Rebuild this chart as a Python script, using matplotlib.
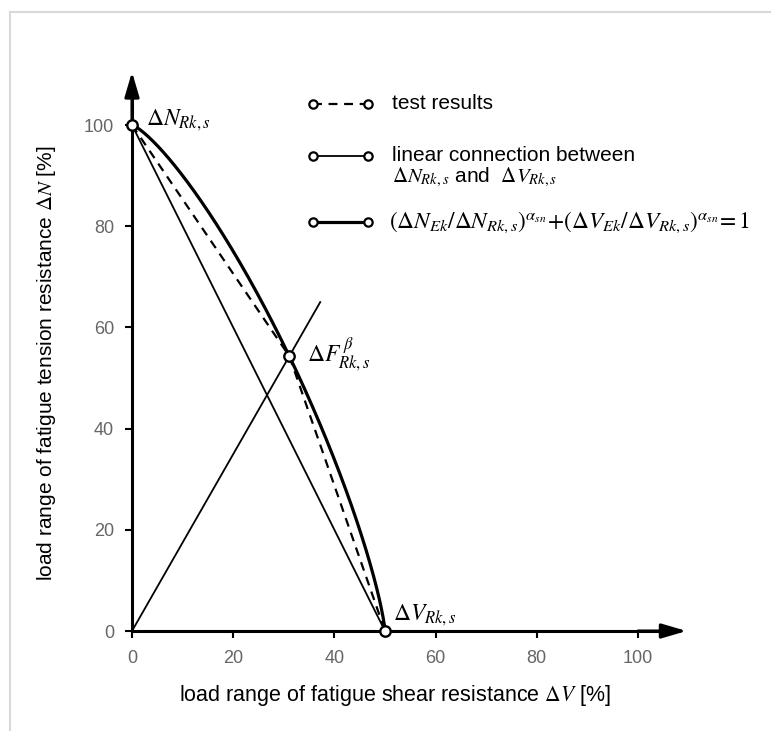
import numpy as np
import matplotlib
matplotlib.use("Agg")
import matplotlib.pyplot as plt
from matplotlib.lines import Line2D

# ---- data ---------------------------------------------------------------
# characteristic fatigue resistances [%]
N_Rk = 100.0          # tension
V_Rk = 50.0           # shear
alpha_sn = 1.284      # interaction exponent

# test results (shear, tension) [%]
test_V = [0.0, 31.1, 50.0]
test_N = [100.0, 54.3, 0.0]

# linear connection between the two resistances
lin_V = [0.0, 50.0]
lin_N = [100.0, 0.0]

# load ray from the origin under the angle beta
ray_V = [0.0, 37.2]
ray_N = [0.0, 65.0]

ticks = [0, 20, 40, 60, 80, 100]

# ---- style --------------------------------------------------------------
plt.rcParams["mathtext.fontset"] = "stix"
TEXT_FONT = ["Liberation Sans", "DejaVu Sans"]
TICK_FONT = ["Liberation Sans Narrow", "Liberation Sans", "DejaVu Sans"]

W, H = 778, 731
fig = plt.figure(figsize=(W / 100, H / 100), dpi=100, facecolor="white")

# axes placed so that 0 -> (132, 631) px and 100 -> (638, 125) px
x0_px, y0_px, ppu = 132.0, 631.0, 5.06
lo, hi = -5.0, 115.0
ax = fig.add_axes([(x0_px + lo * ppu) / W,
                   (H - y0_px + lo * ppu) / H,
                   (hi - lo) * ppu / W,
                   (hi - lo) * ppu / H])
ax.set_xlim(lo, hi)
ax.set_ylim(lo, hi)
ax.set_facecolor("none")

# axes through the origin, ending in arrows
for side in ("top", "right"):
    ax.spines[side].set_visible(False)
for side in ("left", "bottom"):
    ax.spines[side].set_position(("data", 0))
    ax.spines[side].set_linewidth(2.2)
ax.spines["left"].set_bounds(0, 106)
ax.spines["bottom"].set_bounds(0, 106)
arrow = dict(arrowstyle="-|>,head_length=0.75,head_width=0.22",
             lw=2.2, color="black", mutation_scale=20, shrinkA=0, shrinkB=0)
ax.annotate("", xy=(109.6, 0), xytext=(100, 0), arrowprops=arrow)
ax.annotate("", xy=(0, 110.5), xytext=(0, 100), arrowprops=arrow)

ax.set_xticks(ticks)
ax.set_yticks(ticks)
ax.tick_params(axis="both", direction="out", length=5, width=1.5,
               colors="black", labelcolor="#666666", labelsize=13)
ax.tick_params(axis="x", pad=9)
ax.tick_params(axis="y", pad=8)
for lab in ax.get_xticklabels() + ax.get_yticklabels():
    lab.set_family(TICK_FONT)

# ---- curves -------------------------------------------------------------
ax.plot(lin_V, lin_N, color="black", lw=1.3, zorder=3)
ax.plot(test_V, test_N, color="black", lw=1.6, ls=(0, (4, 3)), zorder=3)
ax.plot(ray_V, ray_N, color="black", lw=1.3, zorder=3)

# interaction curve (N/N_Rk)^a + (V/V_Rk)^a = 1
t = np.linspace(0.0, 1.0, 400)
V_int = V_Rk * t
N_int = N_Rk * np.clip(1.0 - t ** alpha_sn, 0, 1) ** (1.0 / alpha_sn)
ax.plot(V_int, N_int, color="black", lw=2.3, zorder=4)

ax.plot(test_V, test_N, ls="none", marker="o", ms=7.5, mfc="white",
        mec="black", mew=1.7, zorder=6, clip_on=False)

# point labels
lab_kw = dict(fontsize=17, color="black", zorder=7)
ax.text(2.8, 99.9, r"$\Delta N_{Rk,s}$", ha="left", va="baseline", **lab_kw)
ax.text(34.5, 53.2, r"$\Delta F_{Rk,s}^{\,\beta}$", ha="left", va="baseline", **lab_kw)
ax.text(51.5, 2.2, r"$\Delta V_{Rk,s}$", ha="left", va="baseline", **lab_kw)

# ---- legend ---------------------------------------------------------------
leg_x = (35.7, 46.7)
leg_text_x = 51.3
rows = [
    (104.2, dict(lw=1.6, ls=(0, (4, 3)))),
    (93.9, dict(lw=1.3, ls="-")),
    (80.8, dict(lw=2.3, ls="-")),
]
for y, style in rows:
    ax.plot(leg_x, (y, y), color="black", marker="o", ms=6, mfc="white",
            mec="black", mew=1.6, clip_on=False, zorder=5, **style)

leg_kw = dict(fontsize=15, color="black", va="center", ha="left")
ax.text(leg_text_x, 104.2, "test results", family=TEXT_FONT, **leg_kw)
ax.text(leg_text_x, 93.9, "linear connection between", family=TEXT_FONT, **leg_kw)
ax.text(leg_text_x, 89.6, r"$\Delta N_{Rk,s}$ and  $\Delta V_{Rk,s}$",
        family=TEXT_FONT, math_fontfamily="stix", **leg_kw)
ax.text(leg_text_x - 0.5, 80.8,
        r"$(\Delta N_{Ek}/\Delta N_{Rk,s})^{\alpha_{sn}}\!+\!(\Delta V_{Ek}/\Delta V_{Rk,s})^{\alpha_{sn}}\!=1$",
        fontsize=16.8, color="black", va="center", ha="left")

# ---- axis titles ----------------------------------------------------------
fig.text(394.5 / W, 1 - 695 / H,
         r"load range of fatigue shear resistance $\Delta V$ [%]",
         family=TEXT_FONT, fontsize=15.5, ha="center", va="center")
fig.text(47 / W, 1 - 363 / H,
         r"load range of fatigue tension resistance $\Delta N$ [%]",
         family=TEXT_FONT, fontsize=15, ha="center", va="center",
         rotation=90)

# light frame around the drawing area
frame = dict(color="#d9d9d9", lw=1.5, transform=fig.transFigure)
fig.add_artist(Line2D([10 / W, 10 / W], [0, 1 - 12 / H], **frame))
fig.add_artist(Line2D([10 / W, 770 / W], [1 - 12 / H, 1 - 12 / H], **frame))

fig.savefig("out.png", dpi=100, facecolor="white")
